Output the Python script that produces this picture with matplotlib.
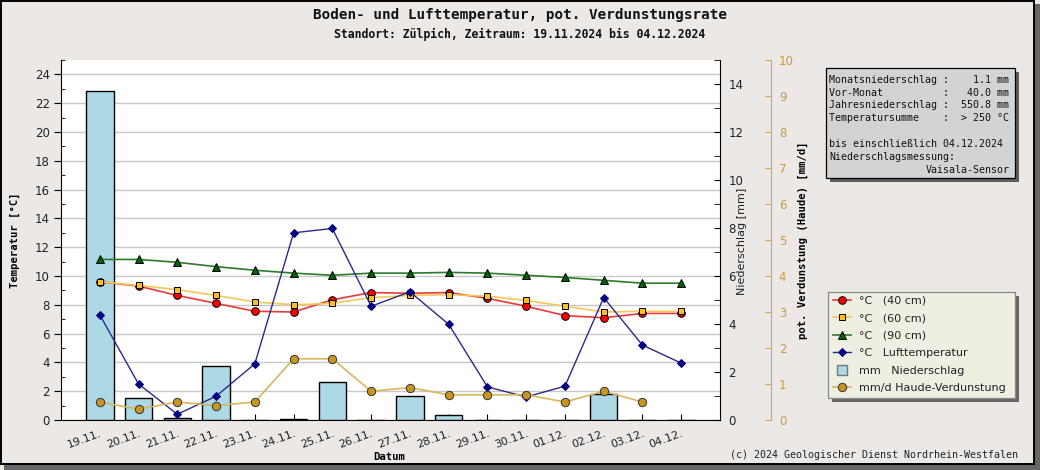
import numpy as np
import matplotlib
matplotlib.use('Agg')
import matplotlib.pyplot as plt
from matplotlib.patches import Rectangle
from matplotlib.lines import Line2D
from matplotlib.ticker import MultipleLocator

# ---------------- data ----------------
dates = ["19.11.", "20.11.", "21.11.", "22.11.", "23.11.", "24.11.", "25.11.", "26.11.",
         "27.11.", "28.11.", "29.11.", "30.11.", "01.12.", "02.12.", "03.12.", "04.12."]
t40 = [9.6, 9.3, 8.65, 8.1, 7.55, 7.5, 8.35, 8.85, 8.8, 8.85, 8.45, 7.9, 7.25, 7.1, 7.4, 7.4]
t60 = [9.6, 9.35, 9.05, 8.65, 8.2, 8.0, 8.1, 8.5, 8.65, 8.7, 8.6, 8.3, 7.9, 7.5, 7.55, 7.55]
t90 = [11.15, 11.15, 10.95, 10.65, 10.4, 10.2, 10.05, 10.2, 10.2, 10.25, 10.2, 10.05, 9.9, 9.7, 9.5, 9.5]
tair = [7.3, 2.5, 0.4, 1.65, 3.9, 13.0, 13.3, 7.9, 8.9, 6.65, 2.3, 1.6, 2.35, 8.5, 5.2, 3.95]
precip = [13.7, 0.9, 0.1, 2.25, 0.0, 0.05, 1.6, 0.0, 1.0, 0.2, 0.0, 0.0, 0.0, 1.1, 0.0, 0.0]
evap = [0.5, 0.3, 0.5, 0.4, 0.5, 1.7, 1.7, 0.8, 0.9, 0.7, 0.7, 0.7, 0.5, 0.8, 0.5, np.nan]

legend_labels = ["°C   (40 cm)", "°C   (60 cm)", "°C   (90 cm)", "°C   Lufttemperatur",
                 "mm   Niederschlag", "mm/d Haude-Verdunstung"]
info_lines = ["Monatsniederschlag :    1.1 mm",
              "Vor-Monat          :   40.0 mm",
              "Jahresniederschlag :  550.8 mm",
              "Temperatursumme    :  > 250 °C"]
info_lines2 = ["bis einschließlich 04.12.2024", "Niederschlagsmessung:"]
info_sensor = "Vaisala-Sensor"
title = "Boden- und Lufttemperatur, pot. Verdunstungsrate"
subtitle = "Standort: Zülpich, Zeitraum: 19.11.2024 bis 04.12.2024"

# ---------------- layout helpers ----------------
W, H = 1040, 470
def fx(x): return x / W
def fy(y): return 1 - y / H

BG = '#ebe8e6'
EVC = '#d4a445'
MONO = 'DejaVu Sans Mono'

fig = plt.figure(figsize=(W / 100, H / 100), dpi=100)
fig.patch.set_facecolor(BG)

# frame with shadow
fig.patches.append(Rectangle((fx(4), fy(470)), 1036 / W, 466 / H, transform=fig.transFigure,
                             facecolor='#666666', edgecolor='none', zorder=-10))
fig.patches.append(Rectangle((fx(1), fy(464)), 1033 / W, 463 / H, transform=fig.transFigure,
                             facecolor=BG, edgecolor='black', lw=1.4, zorder=-9))

x = np.arange(len(dates))

# ---------------- temperature axis (base, grid) ----------------
ax_t = fig.add_axes([fx(61), fy(420), (720 - 61) / W, 360 / H])
ax_t.set_facecolor('white')
ax_t.set_xlim(-1, 16)
ax_t.set_ylim(0, 25)
ax_t.yaxis.set_major_locator(MultipleLocator(2))
ax_t.yaxis.set_minor_locator(MultipleLocator(1))
ax_t.yaxis.grid(True, which='major', color='#c8c8c8', lw=1)
ax_t.set_axisbelow(True)
ax_t.tick_params(axis='y', which='major', direction='out', length=5, labelsize=8.5,
                 labelcolor='#222222', pad=3)
ax_t.tick_params(axis='y', which='minor', direction='in', length=3)
ax_t.set_xticks(x)
ax_t.set_xticklabels(dates, rotation=20, ha='right', rotation_mode='anchor',
                     fontsize=8, color='#222222')
ax_t.tick_params(axis='x', direction='in', length=4, pad=6)
for s in ['top', 'right']:
    ax_t.spines[s].set_visible(False)

# ---------------- precipitation axis (bars) ----------------
ax_p = ax_t.twinx()
ax_p.set_ylim(0, 15)
ax_p.bar(x, precip, width=0.71, color='#add8e6', edgecolor='black', lw=1, zorder=2)
ax_p.yaxis.set_major_locator(MultipleLocator(2))
ax_p.yaxis.set_minor_locator(MultipleLocator(1))
ax_p.tick_params(axis='y', which='both', direction='in', length=4, labelsize=8.5,
                 labelcolor='#222222', pad=6)
for s in ['top', 'left', 'bottom']:
    ax_p.spines[s].set_visible(False)

# ---------------- temperature lines ----------------
ax_l = ax_t.twinx()
ax_l.set_ylim(ax_t.get_ylim())
ax_l.axis('off')
l40, = ax_l.plot(x, t40, color='#e83a3a', lw=1.2, marker='o', ms=5.5, mfc='#ff0000',
                 mec='black', mew=0.7)
l60, = ax_l.plot(x, t60, color='#f5c85a', lw=1.2, marker='s', ms=5, mfc='#ffbf1f',
                 mec='black', mew=0.7)
l90, = ax_l.plot(x, t90, color='#2d7a2d', lw=1.2, marker='^', ms=6, mfc='#006400',
                 mec='black', mew=0.7)
lair, = ax_l.plot(x, tair, color='#2a2a8a', lw=1, marker='D', ms=4.5, mfc='#000080',
                  mec='#000080', mew=0.7)

# ---------------- evaporation axis ----------------
ax_e = ax_t.twinx()
ax_e.set_ylim(0, 10)
ax_e.spines['right'].set_position(('axes', (770.5 - 61) / 659))
ax_e.spines['right'].set_color(EVC)
for s in ['top', 'left', 'bottom']:
    ax_e.spines[s].set_visible(False)
ax_e.yaxis.set_major_locator(MultipleLocator(1))
ax_e.tick_params(axis='y', direction='in', length=4, color=EVC, labelcolor='#c89b3c',
                 labelsize=8.5, pad=6)
lev, = ax_e.plot(x, evap, color='#d9b65c', lw=1.2, marker='o', ms=6, mfc='#c8961e',
                 mec='#333333', mew=0.7)

# ---------------- texts ----------------
fig.text(fx(520), fy(15), title, ha='center', va='center', family=MONO,
         fontweight='bold', fontsize=10.3, color='#111111')
fig.text(fx(520), fy(34), subtitle, ha='center', va='center', family=MONO,
         fontweight='bold', fontsize=8.3, color='#111111')
fig.text(fx(15), fy(240), "Temperatur [°C]", rotation=90, ha='center', va='center',
         family=MONO, fontweight='bold', fontsize=7.6)
fig.text(fx(742), fy(241), "Niederschlag [mm]", rotation=90, ha='center', va='center',
         fontsize=8, color='#222222')
fig.text(fx(803), fy(240), "pot. Verdunstung (Haude) [mm/d]", rotation=90, ha='center',
         va='center', family=MONO, fontweight='bold', fontsize=7.6)
fig.text(fx(389), fy(457), "Datum", ha='center', va='center', family=MONO,
         fontweight='bold', fontsize=7.6)
fig.text(fx(1018), fy(455), "(c) 2024 Geologischer Dienst Nordrhein-Westfalen",
         ha='right', va='center', family=MONO, fontsize=7.2, color='#222222')

# ---------------- info box ----------------
fig.patches.append(Rectangle((fx(830), fy(182)), 189 / W, 110 / H, transform=fig.transFigure,
                             facecolor='#5e5e5e', edgecolor='none', zorder=1))
fig.patches.append(Rectangle((fx(826), fy(178)), 189 / W, 110 / H, transform=fig.transFigure,
                             facecolor='#d3d3d3', edgecolor='black', lw=0.9, zorder=2))
rows = [80, 92.7, 105, 118]
for yy, line in zip(rows, info_lines):
    fig.text(fx(829), fy(yy), line, ha='left', va='center', family=MONO, fontsize=7.2,
             color='#111111', zorder=3)
for yy, line in zip([144.3, 157.3], info_lines2):
    fig.text(fx(829), fy(yy), line, ha='left', va='center', family=MONO, fontsize=7.2,
             color='#111111', zorder=3)
fig.text(fx(1010), fy(170.3), info_sensor, ha='right', va='center', family=MONO,
         fontsize=7.2, color='#111111', zorder=3)

# ---------------- legend ----------------
fig.patches.append(Rectangle((fx(832), fy(402)), 187 / W, 106 / H, transform=fig.transFigure,
                             facecolor='#666666', edgecolor='none', zorder=1))
fig.patches.append(Rectangle((fx(828), fy(398)), 187 / W, 106 / H, transform=fig.transFigure,
                             facecolor='#eeeee2', edgecolor='#888888', lw=0.9, zorder=2))
bar_handle = Line2D([], [], ls='none', marker='s', ms=7.5, mfc='#add8e6', mec='#777777')
handles = [l40, l60, l90, lair, bar_handle, lev]
leg = fig.legend(handles, legend_labels, loc='upper left',
                 bbox_to_anchor=(fx(833), fy(295.5)), bbox_transform=fig.transFigure,
                 frameon=False, fontsize=8, handlelength=1.6, handletextpad=0.7,
                 labelspacing=0.68, borderpad=0, borderaxespad=0)
leg.set_zorder(5)
for t in leg.get_texts():
    t.set_color('#222222')

fig.savefig('out.png', dpi=100, facecolor=fig.get_facecolor())
